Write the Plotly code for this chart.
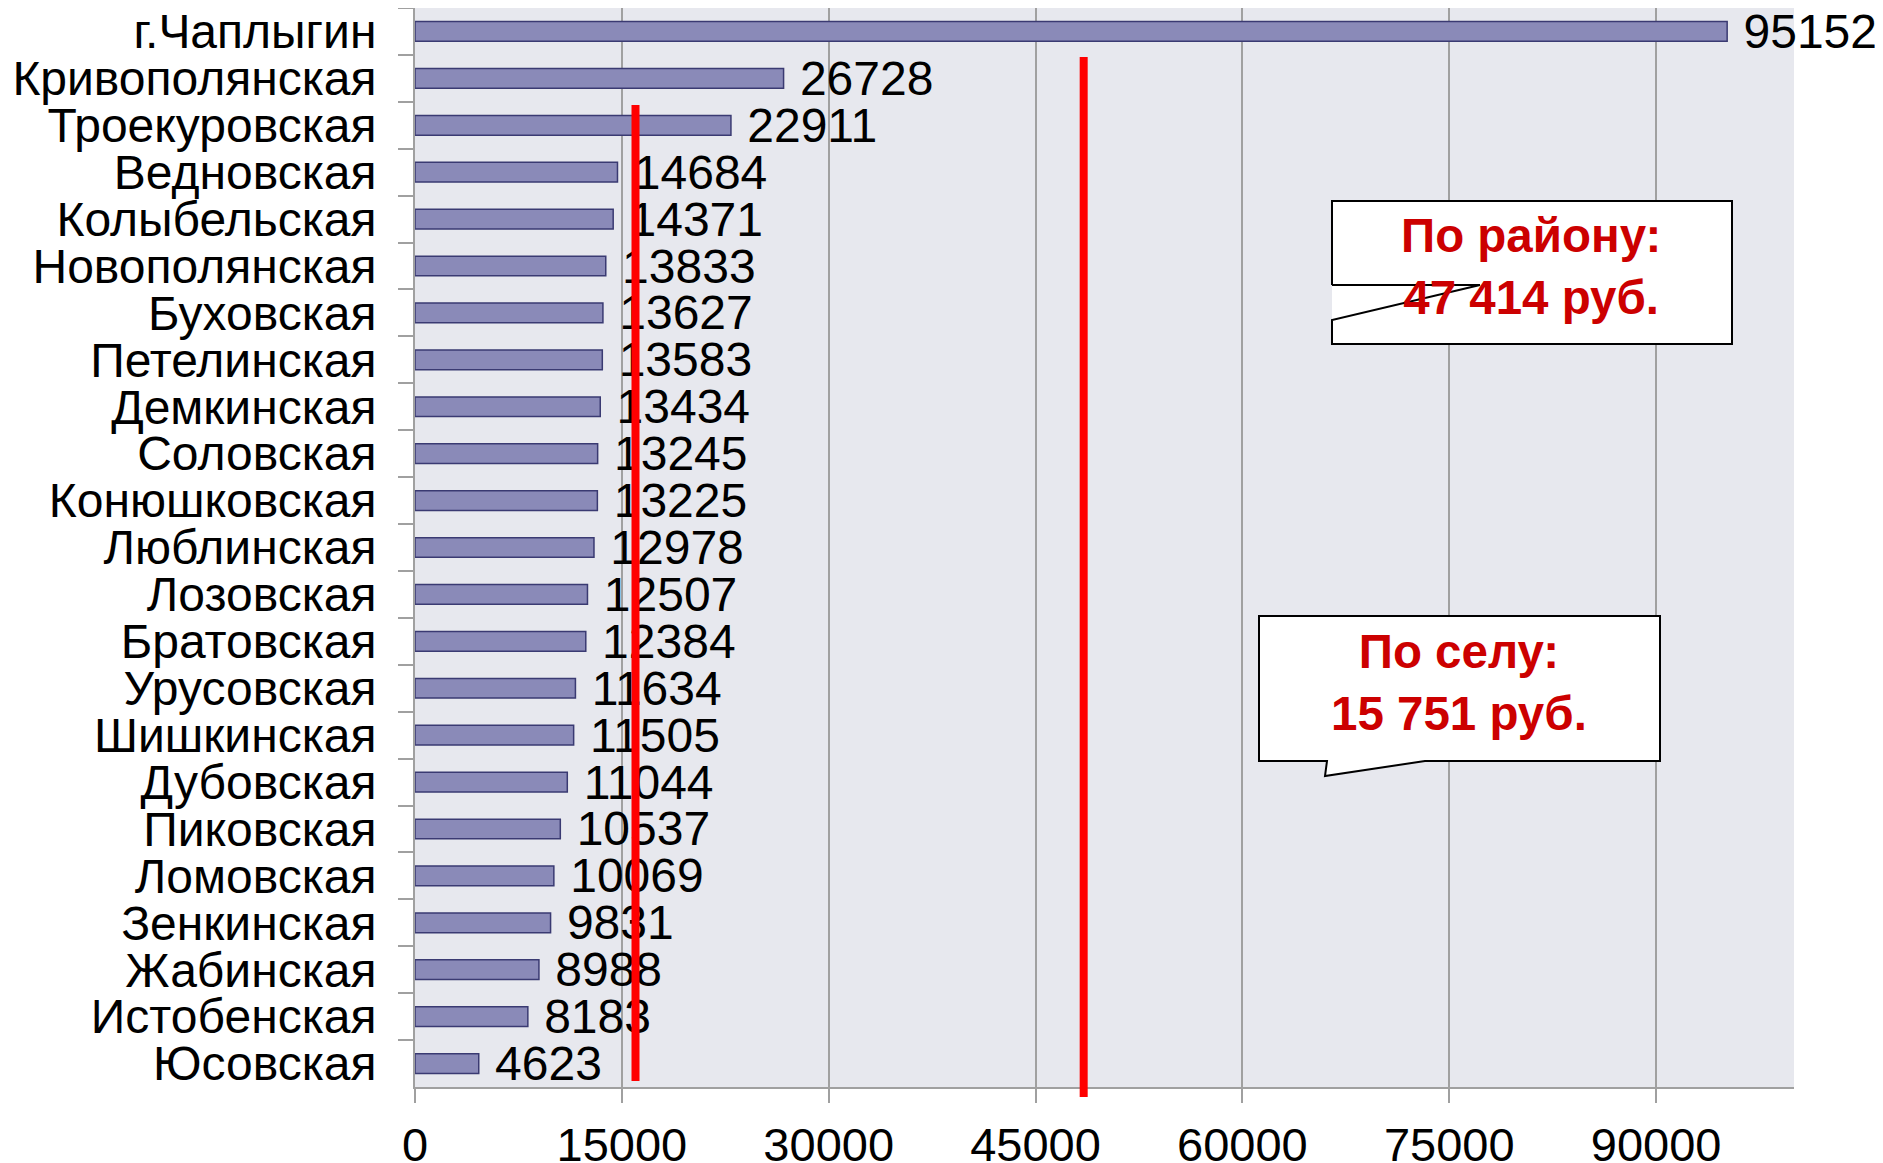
import plotly.graph_objects as go

# ---- data ----
categories = ["г.Чаплыгин", "Кривополянская", "Троекуровская", "Ведновская",
              "Колыбельская", "Новополянская", "Буховская", "Петелинская",
              "Демкинская", "Соловская", "Конюшковская", "Люблинская",
              "Лозовская", "Братовская", "Урусовская", "Шишкинская",
              "Дубовская", "Пиковская", "Ломовская", "Зенкинская",
              "Жабинская", "Истобенская", "Юсовская"]
values = [95152, 26728, 22911, 14684, 14371, 13833, 13627, 13583, 13434,
          13245, 13225, 12978, 12507, 12384, 11634, 11505, 11044, 10537,
          10069, 9831, 8988, 8183, 4623]
x_ticks = [0, 15000, 30000, 45000, 60000, 75000, 90000]
x_range = [0, 100000]

# average markers: positions as drawn in the picture, with their labels
district_line_x = 48490
village_line_x = 15990
district_label = "По району:<br>47 414 руб."
village_label = "По селу:<br>15 751 руб."

# ---- layout geometry ----
# the page body has an 8px margin, so the figure starts at (8, 8) on the page
OFF = 8
W, H = 1883 - OFF, 1163 - OFF
# plot area in page pixels
L, R, T, B = 415, 1794, 8, 1087


def px(x):
    return (x - L) / (R - L)


def py(y):
    return (B - y) / (B - T)


FONT = "Liberation Sans, Arial, sans-serif"
RED_TXT = "#cc0000"

fig = go.Figure()
fig.add_trace(go.Bar(
    x=values, y=categories, orientation="h",
    marker=dict(color="#8a8ab8", line=dict(color="#3a3a72", width=1.5)),
    width=0.42,
    text=[str(v) for v in values],
    texttemplate="\u00a0%{text}",
    textposition="outside",
    textfont=dict(size=48, color="black", family=FONT),
    cliponaxis=False, constraintext="none",
    hoverinfo="skip",
))

shapes = []
# red average lines
shapes.append(dict(type="line", xref="x", yref="paper",
                   x0=village_line_x, x1=village_line_x,
                   y0=py(1081), y1=py(105),
                   line=dict(color="#ff0000", width=8), layer="above"))
shapes.append(dict(type="line", xref="x", yref="paper",
                   x0=district_line_x, x1=district_line_x,
                   y0=py(1097), y1=py(57),
                   line=dict(color="#ff0000", width=8), layer="above"))


def path(points):
    return "M " + " L ".join(f"{px(a):.5f},{py(b):.5f}" for a, b in points)


# callout 1 (district)
shapes.append(dict(type="rect", xref="paper", yref="paper",
                   x0=px(1332), x1=px(1732), y0=py(344), y1=py(201),
                   fillcolor="white", line=dict(width=0), layer="above"))
shapes.append(dict(type="path", xref="paper", yref="paper",
                   path=path([(1332, 285), (1332, 201), (1732, 201), (1732, 344),
                              (1332, 344), (1332, 320), (1480, 285), (1332, 285)]),
                   fillcolor="rgba(0,0,0,0)", line=dict(color="black", width=2),
                   layer="above"))
# callout 2 (village)
shapes.append(dict(type="path", xref="paper", yref="paper",
                   path=path([(1327, 761), (1259, 761), (1259, 616), (1660, 616),
                              (1660, 761), (1425, 761), (1325, 776), (1327, 761)]) + " Z",
                   fillcolor="white", line=dict(color="black", width=2),
                   layer="above"))

annotations = [
    dict(xref="paper", yref="paper", x=px(1531), y=py(266),
         text=f"<b>{district_label}</b>", showarrow=False,
         xanchor="center", yanchor="middle", align="center",
         font=dict(size=47.5, color=RED_TXT, family=FONT)),
    dict(xref="paper", yref="paper", x=px(1459), y=py(682),
         text=f"<b>{village_label}</b>", showarrow=False,
         xanchor="center", yanchor="middle", align="center",
         font=dict(size=47.5, color=RED_TXT, family=FONT)),
]

fig.update_layout(
    width=W, height=H, autosize=False,
    margin=dict(l=L - OFF, r=W - (R - OFF), t=T - OFF, b=H - (B - OFF),
                pad=0, autoexpand=False),
    paper_bgcolor="white", plot_bgcolor="#e7e8ee",
    font=dict(family=FONT, color="black"),
    showlegend=False,
    shapes=shapes, annotations=annotations,
    bargap=0.58,
)
fig.update_xaxes(
    range=x_range, tickmode="array", tickvals=x_ticks,
    ticktext=[str(t) for t in x_ticks],
    ticks="outside", ticklen=14, tickcolor="#a0a0a0", tickwidth=1.5,
    showgrid=True, gridcolor="#a0a0a0", gridwidth=1.5,
    showline=True, linecolor="#a0a0a0", linewidth=2,
    zeroline=False, tickfont=dict(size=47, color="black", family=FONT),
    ticklabelstandoff=2, automargin=False, fixedrange=True,
)
fig.update_yaxes(
    type="category", categoryorder="array", categoryarray=categories,
    tickmode="linear", tick0=0, dtick=1,
    autorange="reversed", tickson="boundaries",
    ticks="outside", ticklen=15, tickcolor="#a0a0a0", tickwidth=1.5,
    showgrid=False, showline=True, linecolor="#a0a0a0", linewidth=2,
    tickfont=dict(size=48, color="black", family=FONT),
    ticklabelstandoff=27, automargin=False, fixedrange=True,
)

fig.write_html("out.html")
